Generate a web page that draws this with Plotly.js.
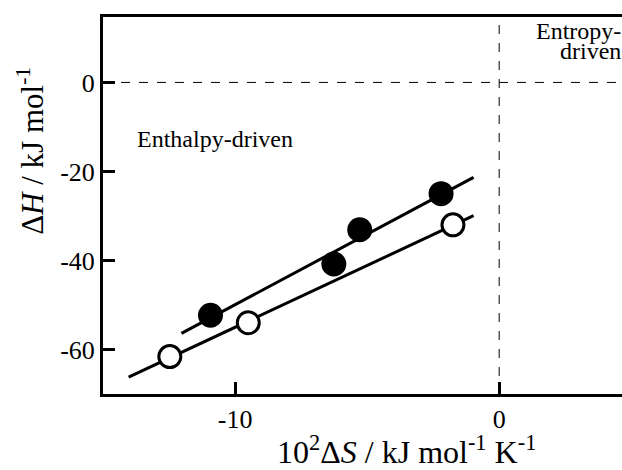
<!DOCTYPE html>
<html>
<head>
<meta charset="utf-8">
<script src="https://cdn.plot.ly/plotly-3.0.1.min.js"></script>
<style>html,body{margin:0;padding:0;background:#fff;overflow:hidden}</style>
</head>
<body>
<div id="chart" style="width:622px;height:470px"></div>
<script>
// Data (x: 10^2 ΔS, y: ΔH)
const filledX = [-10.93, -6.26, -5.28, -2.20];
const filledY = [-52.3, -40.8, -33.1, -25.0];
const openX = [-12.47, -9.50, -1.75];
const openY = [-61.6, -54.0, -32.0];
// x-extent of the fitted lines
const filledFitRange = [-12.03, -0.97];
const openFitRange = [-14.03, -0.97];
const xTicks = [-10, 0];
const yTicks = [0, -20, -40, -60];

function fit(xs, ys, range) {
  const n = xs.length;
  const mx = xs.reduce((a, b) => a + b, 0) / n;
  const my = ys.reduce((a, b) => a + b, 0) / n;
  let sxy = 0, sxx = 0;
  for (let i = 0; i < n; i++) { sxy += (xs[i] - mx) * (ys[i] - my); sxx += (xs[i] - mx) ** 2; }
  const b = sxy / sxx, a = my - b * mx;
  return { x: range, y: range.map(v => a + b * v) };
}
const fF = fit(filledX, filledY, filledFitRange);
const fO = fit(openX, openY, openFitRange);

const FONT = "Liberation Serif";

const traces = [
  { x: fF.x, y: fF.y, mode: 'lines', line: { color: '#000', width: 3 }, showlegend: false, hoverinfo: 'skip' },
  { x: fO.x, y: fO.y, mode: 'lines', line: { color: '#000', width: 3 }, showlegend: false, hoverinfo: 'skip' },
  { x: filledX, y: filledY, mode: 'markers', marker: { size: 22, color: '#000', line: { color: '#000', width: 3 } }, showlegend: false },
  { x: openX, y: openY, mode: 'markers', marker: { size: 22, color: '#fff', line: { color: '#000', width: 3 } }, showlegend: false }
];

const layout = {
  width: 622, height: 470,
  margin: { l: 103, r: 0, t: 17, b: 76 },
  paper_bgcolor: '#fff', plot_bgcolor: '#fff',
  font: { family: FONT, color: '#000', size: 26 },
  showlegend: false,
  xaxis: {
    range: [-15, 4.65], tickvals: xTicks, ticktext: xTicks.map(String),
    ticks: 'inside', ticklen: 12, tickwidth: 3, tickcolor: '#000',
    showline: true, linewidth: 3, linecolor: '#000', mirror: true,
    showgrid: false, zeroline: false,
    tickfont: { family: FONT, size: 26, color: '#000' }
  },
  yaxis: {
    range: [-70, 14.7], tickvals: yTicks, ticktext: yTicks.map(String),
    ticks: 'inside', ticklen: 12, tickwidth: 3, tickcolor: '#000',
    showline: true, linewidth: 3, linecolor: '#000', mirror: false,
    showgrid: false, zeroline: false,
    tickfont: { family: FONT, size: 26, color: '#000' }
  },
  shapes: [
    { type: 'line', xref: 'paper', yref: 'y', x0: 0, x1: 1, y0: 0, y1: 0, line: { color: '#000', width: 1, dash: 'dash' }, layer: 'below' },
    { type: 'line', xref: 'x', yref: 'paper', x0: 0, x1: 0, y0: 0, y1: 1, line: { color: '#000', width: 1, dash: 'dash' }, layer: 'below' }
  ],
  annotations: [
    { xref: 'paper', yref: 'paper', x: 0.5857, y: -0.149, xanchor: 'center', yanchor: 'middle',
      text: '10<sup>2</sup>Δ<i>S</i> / kJ mol<sup>-1</sup> K<sup>-1</sup>', showarrow: false, font: { family: FONT, size: 32, color: '#000' } },
    { xref: 'paper', yref: 'paper', x: -0.1387, y: 0.645, xanchor: 'center', yanchor: 'middle', textangle: -90,
      text: 'Δ<i>H</i> / kJ mol<sup>-1</sup>', showarrow: false, font: { family: FONT, size: 31, color: '#000' } },
    { xref: 'x', yref: 'y', x: -13.8, y: -12.8, xanchor: 'left', yanchor: 'middle', text: 'Enthalpy-driven', showarrow: false, font: { family: FONT, size: 24, color: '#000' } },
    { xref: 'paper', yref: 'paper', x: 1, y: 1.0, xanchor: 'right', yanchor: 'top', text: 'Entropy-', showarrow: false, font: { family: FONT, size: 24, color: '#000' }, borderpad: 0 },
    { xref: 'paper', yref: 'paper', x: 1, y: 0.947, xanchor: 'right', yanchor: 'top', text: 'driven', showarrow: false, font: { family: FONT, size: 24, color: '#000' }, borderpad: 0 }
  ]
};

Plotly.newPlot('chart', traces, layout, { displayModeBar: false, staticPlot: true });
</script>
</body>
</html>
